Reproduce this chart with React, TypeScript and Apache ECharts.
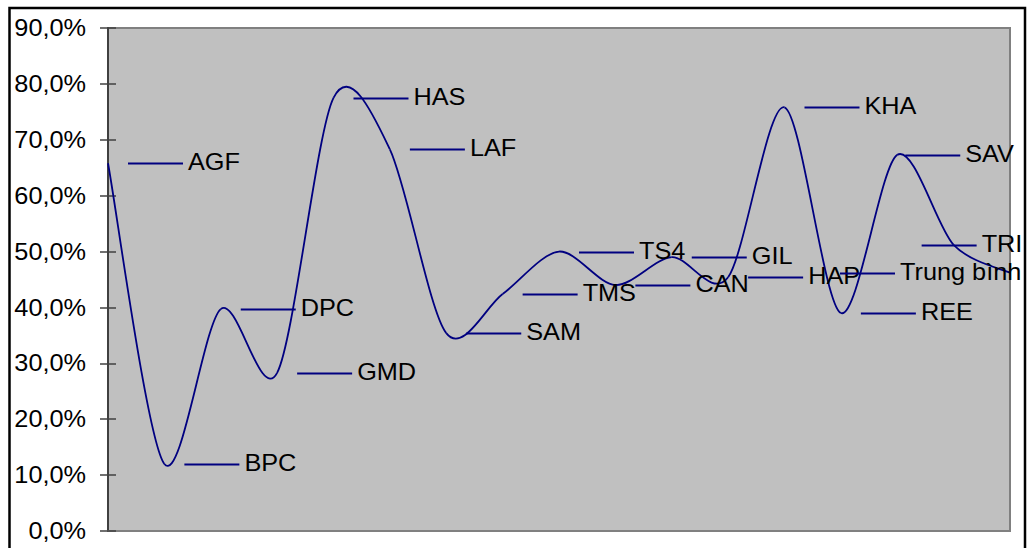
import React, { useEffect, useRef } from "react";
import * as echarts from "echarts";

const categories = [
  "AGF", "BPC", "DPC", "GMD", "HAS", "LAF", "SAM", "TMS", "TS4",
  "CAN", "GIL", "HAP", "KHA", "REE", "SAV", "TRI", "Trung bình",
];
const values = [
  0.658, 0.12, 0.397, 0.283, 0.775, 0.683, 0.354, 0.424, 0.500,
  0.440, 0.490, 0.454, 0.758, 0.390, 0.673, 0.512, 0.462,
];
const yTicks = [0, 0.1, 0.2, 0.3, 0.4, 0.5, 0.6, 0.7, 0.8, 0.9];
// horizontal shift of some labels (moved by hand in the original)
const labelShift: Record<string, number> = { SAV: -12, TRI: -52, "Trung bình": -190 };

const FONT = "'Liberation Sans', Arial, sans-serif";
const NAVY = "#000080";
const TENSION = 0.15;
const STRETCH = 1.1;

export default function App() {
  const ref = useRef<HTMLDivElement>(null);
  useEffect(() => {
    if (!ref.current) return;
    const chart = echarts.init(ref.current, undefined, { renderer: "svg" });
    const fmt = (v: number) => (v * 100).toFixed(1).replace(".", ",") + "%";
    const n = values.length;
    chart.setOption({
      animation: false,
      backgroundColor: "#ffffff",
      grid: {
        left: 108, top: 28, right: 17, bottom: 17,
        show: true, backgroundColor: "#C0C0C0", borderColor: "#808080", borderWidth: 2,
      },
      xAxis: {
        type: "category",
        data: categories,
        boundaryGap: false,
        axisLine: { show: true, lineStyle: { color: "#808080", width: 2 } },
        axisTick: { show: false },
        axisLabel: { show: false },
        splitLine: { show: false },
      },
      yAxis: [
        {
          type: "value", min: 0, max: 0.9, interval: 0.1,
          axisLine: { show: true, lineStyle: { color: "#404040", width: 2 } },
          axisTick: { show: true, length: 8, lineStyle: { color: "#404040", width: 1.5 } },
          axisLabel: { show: false },
          splitLine: { show: false },
        },
        {
          type: "value", min: 0, max: 0.9, interval: 0.1, position: "left",
          axisLine: { show: false },
          axisTick: { show: true, inside: true, length: 8, lineStyle: { color: "#404040", width: 1.5 } },
          axisLabel: { show: false },
          splitLine: { show: false },
        },
      ],
      graphic: [
        {
          type: "rect",
          shape: { x: 9.5, y: 8, width: 1015.5, height: 600 },
          style: { fill: "none", stroke: "#000", lineWidth: 2.5 },
          silent: true,
          z: 100,
        },
      ],
      series: [
        {
          // smoothed curve (Catmull-Rom style Bezier segments through the data)
          type: "custom",
          name: "curve",
          data: values.map((v, i) => [i, v]),
          clip: false,
          z: 3,
          renderItem: (params: any, api: any) => {
            const i = api.value(0);
            if (i >= n - 1) return { type: "group", children: [] };
            const P = (j: number) => {
              const k = Math.max(0, Math.min(n - 1, j));
              return api.coord([k, values[k]]);
            };
            const p0 = P(i - 1), p1 = P(i), p2 = P(i + 1), p3 = P(i + 2);
            return {
              type: "bezierCurve",
              shape: {
                x1: p1[0], y1: p1[1], x2: p2[0], y2: p2[1],
                cpx1: p1[0] + (p2[0] - p0[0]) * TENSION,
                cpy1: p1[1] + (p2[1] - p0[1]) * TENSION,
                cpx2: p2[0] - (p3[0] - p1[0]) * TENSION,
                cpy2: p2[1] - (p3[1] - p1[1]) * TENSION,
              },
              style: { stroke: NAVY, lineWidth: 1.8, fill: null },
            };
          },
        },
        {
          // data labels with legend key
          type: "custom",
          name: "labels",
          data: values.map((v, i) => [i, v]),
          clip: false,
          z: 4,
          renderItem: (params: any, api: any) => {
            const i = api.value(0);
            const v = api.value(1);
            const p = api.coord([i, v]);
            const name = categories[i];
            const dx = labelShift[name] || 0;
            const x0 = p[0] + 20 + dx;
            const y = Math.round(p[1]) + 0.5;
            return {
              type: "group",
              children: [
                {
                  type: "line",
                  shape: { x1: x0, y1: y, x2: x0 + 55, y2: y },
                  style: { stroke: NAVY, lineWidth: 2 },
                },
                {
                  type: "text",
                  x: x0 + 60,
                  y: y - 2,
                  scaleX: STRETCH,
                  style: {
                    text: name, fill: "#000", font: `23px ${FONT}`,
                    textAlign: "left", textVerticalAlign: "middle",
                  },
                },
              ],
            };
          },
        },
        {
          // y-axis tick labels
          type: "custom",
          name: "ticks",
          data: yTicks.map((t) => [0, t]),
          clip: false,
          z: 4,
          renderItem: (params: any, api: any) => {
            const t = api.value(1);
            const p = api.coord([0, t]);
            return {
              type: "text",
              x: p[0] - 22,
              y: p[1],
              scaleX: STRETCH,
              style: {
                text: fmt(t), fill: "#000", font: `23px ${FONT}`,
                textAlign: "right", textVerticalAlign: "middle",
              },
            };
          },
        },
      ],
    });
    return () => chart.dispose();
  }, []);
  return (
    <div
      ref={ref}
      style={{ position: "fixed", left: 0, top: 0, width: 1027, height: 548 }}
    />
  );
}
